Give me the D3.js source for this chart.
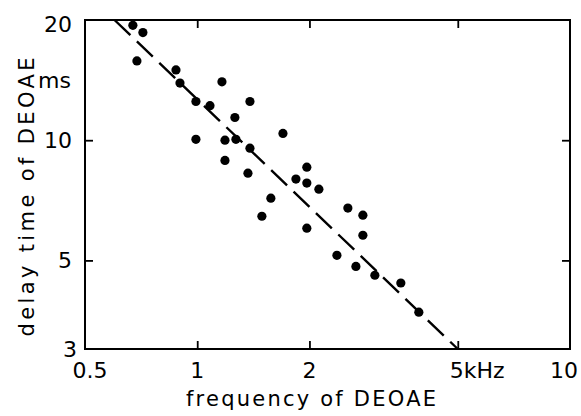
<!DOCTYPE html>
<html lang="en">

<head>
	<title>Delay time of DEOAE vs frequency</title>
	<meta charset="utf-8">
	<script src="https://d3js.org/d3.v7.min.js"></script>
	<style>
		html,
		body {
			margin: 0;
			background: #fff;
			overflow: hidden;
		}

		svg {
			display: block;
		}

		text {
			font-family: "DejaVu Sans", sans-serif;
			fill: #000;
		}

		.tick-label {
			font-size: 22px;
		}

		.axis-title {
			font-size: 21px;
		}
	</style>
</head>

<body>
	<div id="chart"></div>
	<script>
		// Data (frequency in kHz, delay in ms)
		const frequency = [0.672, 0.715, 0.689, 0.877, 0.899, 1.165, 0.992, 1.082, 1.385, 1.262,
			0.992, 1.187, 1.270, 1.385, 1.187, 1.368, 1.698, 1.968, 1.840, 1.968,
			2.120, 1.576, 1.491, 1.968, 2.536, 2.782, 2.782, 2.370, 2.665, 2.996,
			3.517, 3.931];
		const delay = [19.4, 18.6, 15.8, 15.0, 13.9, 14.0, 12.5, 12.2, 12.5, 11.4,
			10.05, 10.0, 10.05, 9.55, 8.9, 8.27, 10.4, 8.56, 7.99, 7.81,
			7.54, 7.16, 6.45, 6.02, 6.76, 6.49, 5.78, 5.15, 4.83, 4.59,
			4.39, 3.71];

		// Regression line end points
		const fitFrequency = [0.6, 5];
		const fitDelay = [20, 3];

		// Ticks
		const xTickValues = [0.5, 1, 2, 5, 10];
		const xTickLabels = ["0.5", "1", "2", "5kHz", "10"];
		const yTickValues = [3, 5, 10, 20];
		const yTickLabels = ["3", "5", "10", "20"];
		const xInnerTicks = [1, 2, 5];
		const yInnerTicks = [5, 10];

		// Chart dimensions
		const width = 581;
		const height = 416;
		const margin = {
			top: 20,
			right: 11,
			bottom: 67,
			left: 85
		};
		const innerWidth = width - margin.left - margin.right;
		const innerHeight = height - margin.top - margin.bottom;

		const svg = d3.select("#chart")
			.append("svg")
			.attr("width", width)
			.attr("height", height);

		const bounds = svg.append("g")
			.attr("transform", `translate(${margin.left},${margin.top})`);

		// Scales
		const x = d3.scaleLog()
			.domain([0.5, 10])
			.range([0, innerWidth]);

		const y = d3.scaleLog()
			.domain([3, 20])
			.range([innerHeight, 0]);

		// Inner tick marks on all four sides
		const tickLen = 8;
		const tickAxes = [
			{ axis: d3.axisBottom(x).tickValues(xInnerTicks), t: `translate(0,${innerHeight})` },
			{ axis: d3.axisTop(x).tickValues(xInnerTicks), t: "translate(0,0)" },
			{ axis: d3.axisLeft(y).tickValues(yInnerTicks), t: "translate(0,0)" },
			{ axis: d3.axisRight(y).tickValues(yInnerTicks), t: `translate(${innerWidth},0)` }
		];
		tickAxes.forEach(a => {
			const g = bounds.append("g")
				.attr("transform", a.t)
				.call(a.axis.tickSizeInner(-tickLen).tickSizeOuter(0).tickFormat(""));
			g.select(".domain").remove();
			g.selectAll(".tick text").remove();
			g.selectAll(".tick line")
				.attr("stroke", "#000")
				.attr("stroke-width", 1.8);
		});

		// Frame
		bounds.append("rect")
			.attr("x", 0)
			.attr("y", 0)
			.attr("width", innerWidth)
			.attr("height", innerHeight)
			.attr("fill", "none")
			.attr("stroke", "#000")
			.attr("stroke-width", 2);

		// Tick labels, placed in page coordinates from the scales
		svg.append("g")
			.selectAll("text")
			.data(xTickValues)
			.join("text")
			.attr("class", "tick-label")
			.attr("x", (d, i) => {
				const px = margin.left + x(d);
				if (i === 0) return px + 5;
				if (xTickLabels[i] === "5kHz") return px - 8;
				if (i === xTickValues.length - 1) return px - 6;
				return px;
			})
			.attr("y", margin.top + innerHeight + 29)
			.attr("text-anchor", (d, i) => xTickLabels[i] === "5kHz" ? "start" : "middle")
			.text((d, i) => xTickLabels[i]);

		svg.append("g")
			.selectAll("text")
			.data(yTickValues)
			.join("text")
			.attr("class", "tick-label")
			.attr("x", (d, i) => margin.left - 13 + (i === 0 ? 5 : 0))
			.attr("y", (d, i) => margin.top + y(d) + (i === yTickValues.length - 1 ? 12 : 8))
			.attr("text-anchor", "end")
			.text((d, i) => yTickLabels[i]);

		// Unit label under the 20
		svg.append("text")
			.attr("class", "tick-label")
			.attr("x", margin.left - 14)
			.attr("y", margin.top + y(20) + 68)
			.attr("text-anchor", "end")
			.text("ms");

		// Regression line
		const fit = fitFrequency.map((f, i) => ({ f: f, d: fitDelay[i] }));
		bounds.append("path")
			.datum(fit)
			.attr("d", d3.line().x(d => x(d.f)).y(d => y(d.d)))
			.attr("fill", "none")
			.attr("stroke", "#000")
			.attr("stroke-width", 2.4)
			.attr("stroke-dasharray", "22,9");

		// Points
		const points = frequency.map((f, i) => ({ f: f, d: delay[i] }));
		bounds.selectAll("circle")
			.data(points)
			.join("circle")
			.attr("cx", d => x(d.f))
			.attr("cy", d => y(d.d))
			.attr("r", 4.6)
			.attr("fill", "#000");

		// Axis titles
		svg.append("text")
			.attr("class", "axis-title")
			.attr("x", 311)
			.attr("y", 406)
			.attr("text-anchor", "middle")
			.attr("textLength", 250)
			.attr("lengthAdjust", "spacing")
			.text("frequency of DEOAE");

		svg.append("text")
			.attr("class", "axis-title")
			.attr("transform", "translate(34,197) rotate(-90)")
			.attr("text-anchor", "middle")
			.attr("textLength", 279)
			.attr("lengthAdjust", "spacing")
			.text("delay time of DEOAE");
	</script>
</body>

</html>
